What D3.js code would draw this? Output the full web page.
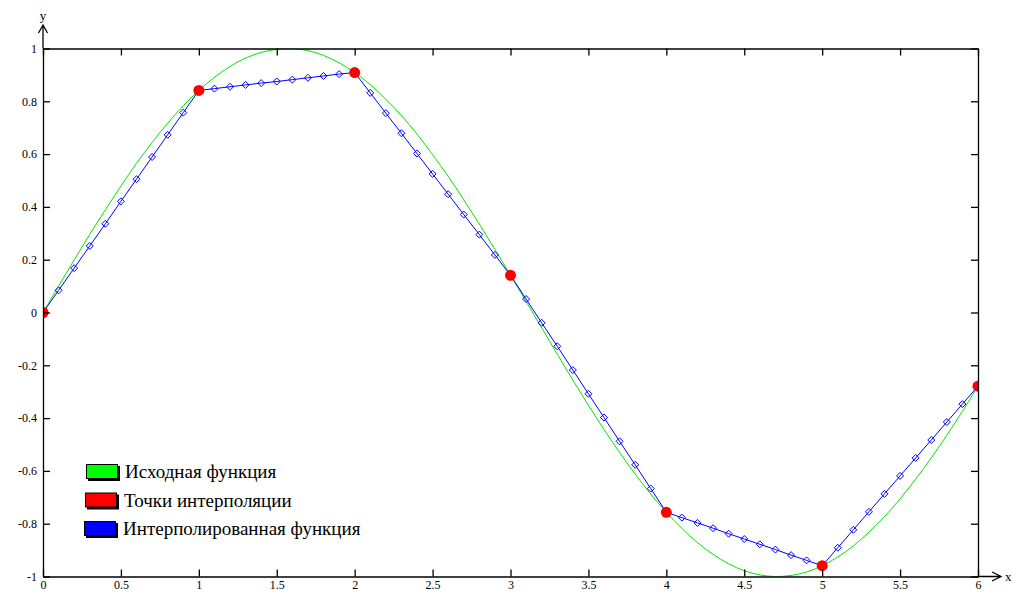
<!DOCTYPE html>
<html>
<head>
<meta charset="utf-8">
<script src="https://cdn.jsdelivr.net/npm/d3@7"></script>
<style>
  body { margin: 0; background: #fff; }
  svg { display: block; }
  svg text { font-family: "Liberation Serif", "DejaVu Serif", serif; fill: #000; }
  .axis text { font-size: 12px; }
  .axis path, .axis line { stroke: #000; stroke-width: 1.3; }
</style>
</head>
<body>
<svg id="chart" width="1024" height="609"></svg>
<script>
// tick labels
const xTicks = [0, 0.5, 1, 1.5, 2, 2.5, 3, 3.5, 4, 4.5, 5, 5.5, 6]
const yTicks = [-1, -0.8, -0.6, -0.4, -0.2, 0, 0.2, 0.4, 0.6, 0.8, 1]

// source function, read every 0.1 along x
const srcX = d3.range(61).map(i => i / 10)
const srcY = [
  0, 0.100, 0.199, 0.296, 0.389, 0.479, 0.565, 0.644, 0.717, 0.783,
  0.841, 0.891, 0.932, 0.964, 0.985, 0.997, 1.000, 0.992, 0.974, 0.946,
  0.909, 0.863, 0.808, 0.746, 0.676, 0.598, 0.516, 0.427, 0.335, 0.239,
  0.141, 0.042, -0.058, -0.158, -0.256, -0.351, -0.443, -0.530, -0.612, -0.688,
  -0.757, -0.818, -0.872, -0.916, -0.952, -0.978, -0.994, -1.000, -0.996, -0.983,
  -0.959, -0.926, -0.884, -0.832, -0.773, -0.706, -0.631, -0.551, -0.465, -0.374,
  -0.279
]

// interpolation nodes
const nodeX = [0, 1, 2, 3, 4, 5, 6]
const nodeY = [0, 0.841, 0.909, 0.141, -0.757, -0.959, -0.279]

// interpolated function markers, every 0.1 along x
const interpX = d3.range(61).map(i => i / 10)
const interpY = [
  0, 0.084, 0.168, 0.252, 0.336, 0.421, 0.505, 0.589, 0.673, 0.757,
  0.841, 0.848, 0.855, 0.862, 0.869, 0.875, 0.882, 0.889, 0.896, 0.903,
  0.909, 0.832, 0.755, 0.679, 0.602, 0.525, 0.448, 0.371, 0.295, 0.218,
  0.141, 0.051, -0.039, -0.128, -0.218, -0.308, -0.398, -0.488, -0.577, -0.667,
  -0.757, -0.777, -0.797, -0.817, -0.838, -0.858, -0.878, -0.898, -0.919, -0.939,
  -0.959, -0.891, -0.823, -0.755, -0.687, -0.619, -0.551, -0.483, -0.415, -0.347,
  -0.279
]

const legendNames = ['Исходная функция', 'Точки интерполяции', 'Интерполированная функция']
const legendColors = ['#00ff00', '#ff0000', '#0000ff']

const mLeft = 43, mRight = 978, mTop = 48.5, mBottom = 576.5

const svg = d3.select('#chart')
const x = d3.scaleLinear().domain([0, 6]).range([mLeft, mRight])
const y = d3.scaleLinear().domain([-1, 1]).range([mBottom, mTop])

svg.append('clipPath').attr('id', 'plot')
  .append('rect')
  .attr('x', mLeft).attr('y', mTop)
  .attr('width', mRight - mLeft).attr('height', mBottom - mTop)

const plot = svg.append('g').attr('clip-path', 'url(#plot)')

// Source curve
plot.append('path')
  .datum(srcX.map((d, i) => [d, srcY[i]]))
  .attr('fill', 'none')
  .attr('stroke', '#00e600')
  .attr('stroke-width', 1)
  .attr('d', d3.line().x(d => x(d[0])).y(d => y(d[1])).curve(d3.curveCatmullRom))

// Interpolated polyline
plot.append('path')
  .datum(interpX.map((d, i) => [d, interpY[i]]))
  .attr('fill', 'none')
  .attr('stroke', '#0000ff')
  .attr('stroke-width', 1)
  .attr('d', d3.line().x(d => x(d[0])).y(d => y(d[1])))

const diamond = 'M0,-3.5L3.5,0L0,3.5L-3.5,0Z'
plot.selectAll('path.marker')
  .data(interpX.map((d, i) => [d, interpY[i]]).filter(d => !nodeX.includes(d[0])))
  .enter()
  .append('path')
  .attr('class', 'marker')
  .attr('d', diamond)
  .attr('fill', 'none')
  .attr('stroke', '#0000ff')
  .attr('stroke-width', 1)
  .attr('transform', d => `translate(${x(d[0])},${y(d[1])})`)

// Nodes
plot.selectAll('circle')
  .data(nodeX.map((d, i) => [d, nodeY[i]]))
  .enter()
  .append('circle')
  .attr('cx', d => x(d[0]))
  .attr('cy', d => y(d[1]))
  .attr('r', 5.5)
  .attr('fill', '#ff0000')

// Axes
const fmt = d => String(d)
svg.append('g').attr('class', 'axis')
  .attr('transform', `translate(0,${mBottom})`)
  .call(d3.axisBottom(x).tickValues(xTicks).tickFormat(fmt)
    .tickSizeInner(-7).tickSizeOuter(0).tickPadding(4))
svg.append('g').attr('class', 'axis')
  .attr('transform', `translate(0,${mTop})`)
  .call(d3.axisTop(x).tickValues(xTicks).tickFormat('')
    .tickSizeInner(-7).tickSizeOuter(0))
svg.append('g').attr('class', 'axis')
  .attr('transform', `translate(${mLeft},0)`)
  .call(d3.axisLeft(y).tickValues(yTicks).tickFormat(fmt)
    .tickSizeInner(-7).tickSizeOuter(0).tickPadding(6))
svg.append('g').attr('class', 'axis')
  .attr('transform', `translate(${mRight},0)`)
  .call(d3.axisRight(y).tickValues(yTicks).tickFormat('')
    .tickSizeInner(-7).tickSizeOuter(0))

// Arrows
const arrows = svg.append('g')
  .attr('fill', 'none').attr('stroke', '#000').attr('stroke-width', 1.3)
arrows.append('path').attr('d', `M${mLeft},${mTop}V25M${mLeft - 4.5},33L${mLeft},25L${mLeft + 4.5},33`)
arrows.append('path').attr('d', `M${mRight},${mBottom}H1001M992,${mBottom - 4.5}L1001,${mBottom}L992,${mBottom + 4.5}`)
svg.append('text').attr('x', mLeft).attr('y', 20)
  .attr('text-anchor', 'middle').attr('font-size', 13).text('y')
svg.append('text').attr('x', 1005).attr('y', mBottom + 4)
  .attr('font-size', 13).text('x')

// Legend
const legend = svg.append('g')
const item = legend.selectAll('g')
  .data(legendNames)
  .enter()
  .append('g')
  .attr('transform', (d, i) => `translate(${86 - i},${464 + i * 28.5})`)
item.append('rect')
  .attr('x', 2).attr('y', 2).attr('width', 32).attr('height', 15).attr('fill', '#000')
item.append('rect')
  .attr('x', 0.5).attr('y', 0.5).attr('width', 31).attr('height', 14)
  .attr('fill', (d, i) => legendColors[i]).attr('stroke', '#000')
item.append('text')
  .attr('x', 39).attr('y', 14)
  .attr('font-size', 19)
  .text(d => d)
</script>
</body>
</html>
